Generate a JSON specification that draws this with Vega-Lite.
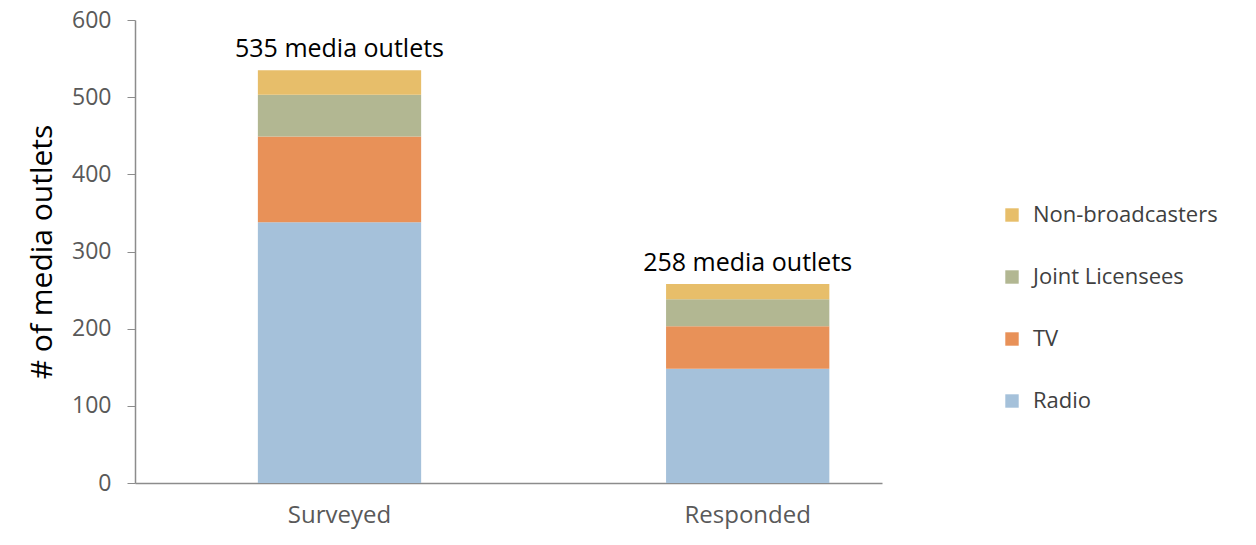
{
  "$schema": "https://vega.github.io/schema/vega-lite/v6.json",
  "width": 747,
  "height": 463,
  "autosize": {"type": "none"},
  "padding": {"left": 135, "top": 20, "right": 374, "bottom": 62},
  "background": "white",
  "config": {"view": {"stroke": null}},
  "datasets": {
    "counts": [
      {"stage": "Surveyed", "type": "Radio", "rank": 1, "count": 338},
      {"stage": "Surveyed", "type": "TV", "rank": 2, "count": 111},
      {"stage": "Surveyed", "type": "Joint Licensees", "rank": 3, "count": 54},
      {"stage": "Surveyed", "type": "Non-broadcasters", "rank": 4, "count": 32},
      {"stage": "Responded", "type": "Radio", "rank": 1, "count": 148},
      {"stage": "Responded", "type": "TV", "rank": 2, "count": 55},
      {"stage": "Responded", "type": "Joint Licensees", "rank": 3, "count": 35},
      {"stage": "Responded", "type": "Non-broadcasters", "rank": 4, "count": 20}
    ],
    "totals": [
      {"stage": "Surveyed", "total": 535, "label": "535 media outlets"},
      {"stage": "Responded", "total": 258, "label": "258 media outlets"}
    ]
  },
  "layer": [
    {
      "data": {"name": "counts"},
      "mark": {"type": "bar"},
      "encoding": {
        "x": {
          "field": "stage", "type": "nominal", "sort": ["Surveyed", "Responded"],
          "scale": {"paddingInner": 0.6, "paddingOuter": 0.215, "align": 0.7},
          "axis": {"title": null, "labelAngle": 0, "labelFont": "Open Sans", "labelFontSize": 24, "labelColor": "#595959", "labelPadding": 20, "ticks": false, "domainColor": "#8c8c8c", "domainWidth": 1.5}
        },
        "y": {
          "field": "count", "type": "quantitative", "stack": "zero",
          "scale": {"domain": [0, 600]},
          "axis": {"values": [0, 100, 200, 300, 400, 500, 600], "grid": false, "title": "# of media outlets", "titleFont": "Open Sans", "titleFontSize": 30, "titleFontWeight": "normal", "titleColor": "#000000", "titlePadding": 14, "labelFont": "Open Sans", "labelFontSize": 23, "labelColor": "#595959", "labelPadding": 16, "tickSize": 8, "tickColor": "#8c8c8c", "domainColor": "#8c8c8c", "domainWidth": 1.5}
        },
        "color": {
          "field": "type", "type": "nominal",
          "scale": {"domain": ["Non-broadcasters", "Joint Licensees", "TV", "Radio"], "range": ["#E7BE6A", "#B2B792", "#E89158", "#A5C1DA"]},
          "legend": {"title": null, "orient": "none", "legendX": 866, "legendY": 184, "symbolType": "square", "symbolSize": 180, "symbolStrokeWidth": 0, "labelFont": "Open Sans", "labelFontSize": 22, "labelColor": "#404040", "labelOffset": 10, "labelLimit": 400, "rowPadding": 40}
        },
        "order": {"field": "rank", "type": "quantitative"}
      }
    },
    {
      "data": {"name": "totals"},
      "mark": {"type": "text", "baseline": "bottom", "dy": -8, "font": "Open Sans", "fontSize": 25, "color": "#000000"},
      "encoding": {
        "x": {"field": "stage", "type": "nominal", "sort": ["Surveyed", "Responded"]},
        "y": {"field": "total", "type": "quantitative"},
        "text": {"field": "label"}
      }
    }
  ]
}
